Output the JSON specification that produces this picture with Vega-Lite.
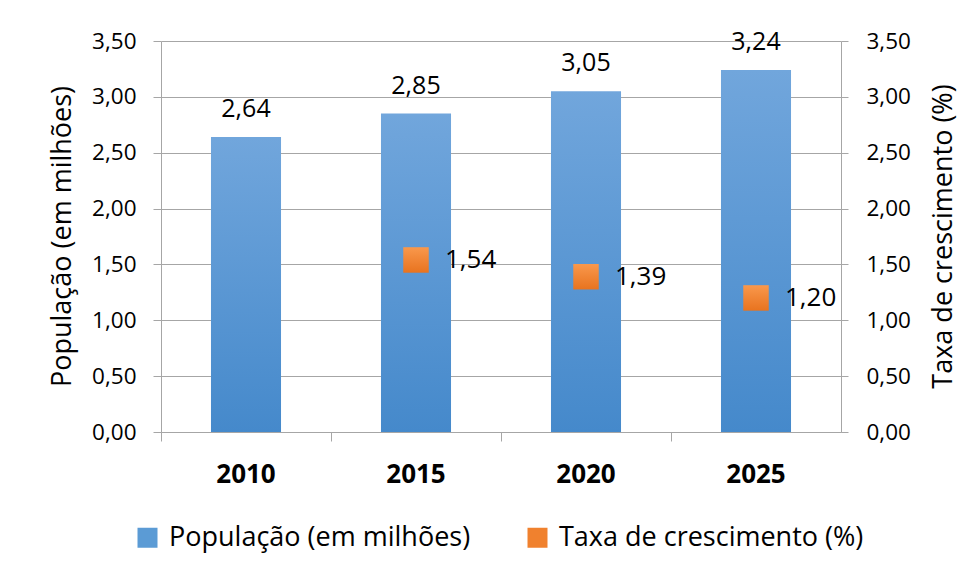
{
  "$schema": "https://vega.github.io/schema/vega-lite/v6.json",
  "width": 680,
  "height": 391,
  "autosize": "none",
  "padding": {"left": 161, "top": 41, "right": 138, "bottom": 138},
  "background": "white",
  "config": {
    "font": "Open Sans",
    "view": {"stroke": null},
    "locale": {"number": {"decimal": ",", "thousands": ".", "grouping": [3], "currency": ["R$", ""]}},
    "axis": {"domainColor": "#a6a6a6", "tickColor": "#a6a6a6", "gridColor": "#a6a6a6", "labelColor": "#000000", "titleColor": "#000000", "labelFont": "Open Sans", "titleFont": "Open Sans", "titleFontWeight": "normal"}
  },
  "data": {"values": [
    {"ano": "2010", "pop": 2.64, "taxa": null},
    {"ano": "2015", "pop": 2.85, "taxa": 1.54},
    {"ano": "2020", "pop": 3.05, "taxa": 1.39},
    {"ano": "2025", "pop": 3.24, "taxa": 1.20}
  ]},
  "encoding": {
    "x": {
      "field": "ano", "type": "nominal",
      "scale": {"paddingInner": 0, "paddingOuter": 0},
      "axis": {"title": null, "labelAngle": 0, "labelFontSize": 26, "labelFontWeight": "bold", "labelPadding": 41, "tickSize": 9, "bandPosition": 0, "grid": false, "labelBaseline": "alphabetic"}
    }
  },
  "layer": [
    {
      "encoding": {
        "y": {
          "field": "pop", "type": "quantitative",
          "scale": {"domain": [0, 3.5], "nice": false, "zero": true},
          "axis": {"values": [0, 0.5, 1, 1.5, 2, 2.5, 3, 3.5], "format": ".2f", "labelFontSize": 22.5, "labelPadding": 17, "tickSize": 8, "grid": true, "title": "População (em milhões)", "titleFontSize": 27, "titleAngle": -90, "titleX": -99, "titleY": 195, "titleAlign": "center", "titleBaseline": "middle"}
        }
      },
      "layer": [
        {
          "mark": {"type": "bar", "width": {"band": 0.412},
            "fill": {"gradient": "linear", "x1": 0, "y1": 0, "x2": 0, "y2": 1, "stops": [{"offset": 0, "color": "#71a6dc"}, {"offset": 1, "color": "#4589cb"}]}}
        },
        {
          "mark": {"type": "text", "baseline": "alphabetic", "align": "center", "dy": -20, "fontSize": 25, "color": "#000000"},
          "encoding": {"text": {"field": "pop", "type": "quantitative", "format": ".2f"}}
        },
        {
          "transform": [{"filter": "datum.pop < 0"}],
          "mark": {"type": "point", "shape": "square", "filled": true, "opacity": 1},
          "encoding": {
            "color": {
              "datum": "População (em milhões)",
              "type": "nominal",
              "scale": {"domain": ["População (em milhões)", "Taxa de crescimento (%)"], "range": ["#5b9bd5", "#f0812e"]},
              "legend": {"title": null, "orient": "none", "legendX": -27, "legendY": 483, "direction": "horizontal", "symbolType": "square", "symbolSize": 400, "symbolStrokeWidth": 0, "symbolOpacity": 1, "labelFontSize": 27, "labelFont": "Open Sans", "labelColor": "#000000", "labelOffset": 8, "columnPadding": 53, "labelLimit": 600}
            }
          }
        }
      ]
    },
    {
      "encoding": {
        "y": {
          "field": "taxa", "type": "quantitative",
          "scale": {"domain": [0, 3.5], "nice": false, "zero": true},
          "axis": {"orient": "right", "values": [0, 0.5, 1, 1.5, 2, 2.5, 3, 3.5], "format": ".2f", "labelFontSize": 22.5, "labelPadding": 18, "tickSize": 7, "grid": false, "title": "Taxa de crescimento (%)", "titleFontSize": 27, "titleAngle": -90, "titleX": 102, "titleY": 195, "titleAlign": "center", "titleBaseline": "middle"}
        }
      },
      "layer": [
        {
          "mark": {"type": "point", "shape": "square", "filled": true, "size": 650, "opacity": 1,
            "fill": {"gradient": "linear", "x1": 0, "y1": 0, "x2": 0, "y2": 1, "stops": [{"offset": 0, "color": "#f9984c"}, {"offset": 1, "color": "#e8731f"}]}}
        },
        {
          "mark": {"type": "text", "baseline": "middle", "align": "left", "dx": 29, "fontSize": 26, "color": "#000000"},
          "encoding": {"text": {"field": "taxa", "type": "quantitative", "format": ".2f"}}
        }
      ]
    }
  ],
  "resolve": {"scale": {"y": "independent"}}
}
